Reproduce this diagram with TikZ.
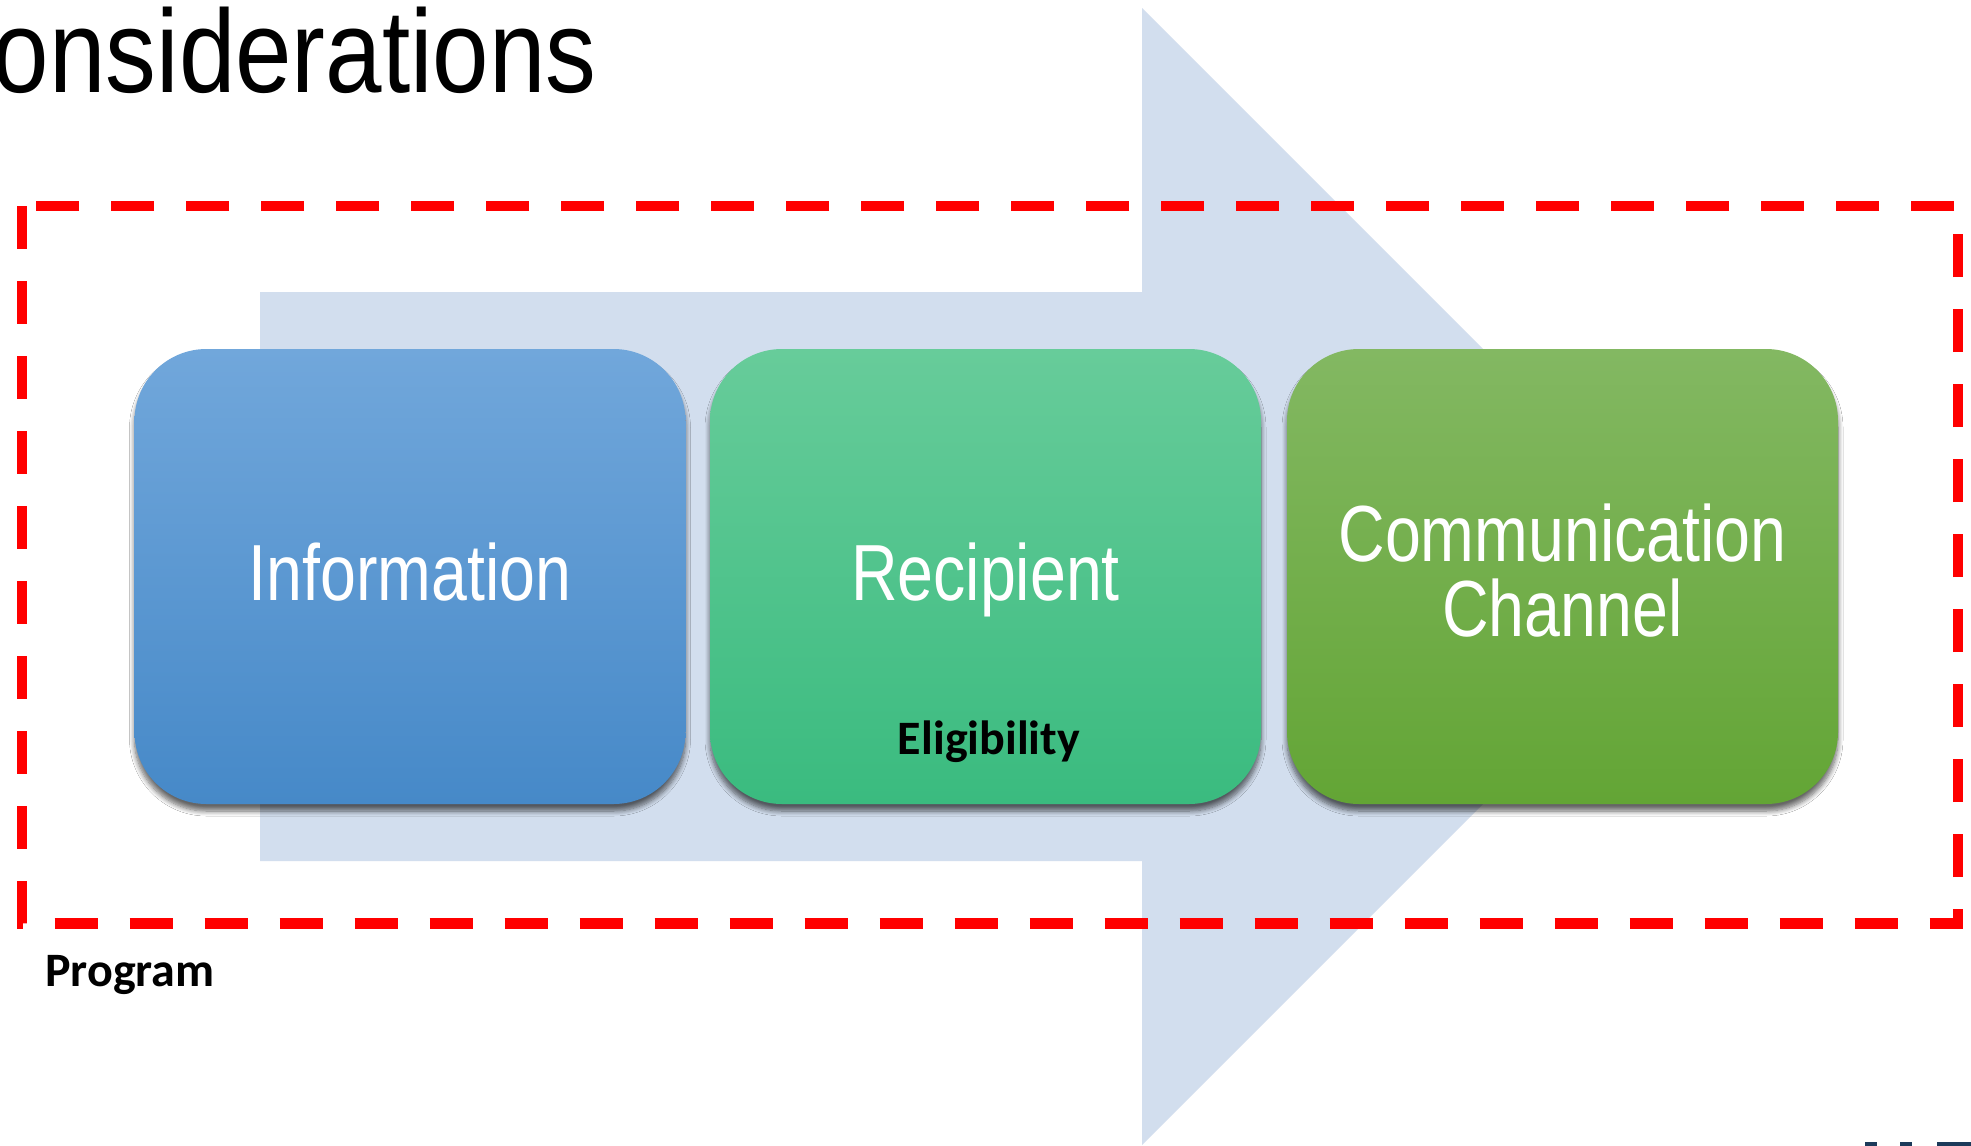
\documentclass[tikz,border=0pt]{standalone}
\usepackage{fontspec}
\setmainfont{Liberation Sans}
\newfontfamily\thinfont[FakeStretch=0.81]{Liberation Sans}
\newfontfamily\titlefont[FakeStretch=0.86]{Liberation Sans}
\newfontfamily\lblfont{Carlito}
\usetikzlibrary{shadows.blur}
\definecolor{arrowc}{RGB}{210,222,238}
\definecolor{infoT}{RGB}{113,167,219}
\definecolor{infoB}{RGB}{70,137,200}
\definecolor{recT}{RGB}{103,204,154}
\definecolor{recB}{RGB}{58,187,127}
\definecolor{comT}{RGB}{131,184,98}
\definecolor{comB}{RGB}{99,165,53}
\definecolor{logoc}{RGB}{28,58,90}
\tikzset{
  box/.style={rounded corners=36pt, minimum width=275.5pt, minimum height=227.5pt,
    inner sep=0pt, blur shadow={shadow xshift=0pt, shadow yshift=-3.5pt, shadow blur radius=2.5pt, shadow blur steps=8, shadow opacity=60}},
  boxtext/.style={text=white, font=\thinfont\fontsize{39.8}{48}\selectfont, anchor=base, inner sep=0pt},
  lbl/.style={text=black, font=\lblfont\bfseries\fontsize{24}{29}\selectfont, inner sep=0pt},
  progline/.style={draw=red, line width=5.25pt, dash pattern=on 21.5pt off 16pt}
}
\begin{document}
\begin{tikzpicture}[x=0.5pt,y=-0.5pt]
\useasboundingbox (0,0) rectangle (1971,1146);
\fill[white] (0,0) rectangle (1971,1146);
% title
\node[font=\titlefont\fontsize{59}{70}\selectfont, anchor=base east, inner sep=0pt] (title) at (597,92) {onsiderations};
% big arrow
\fill[arrowc] (260,292) -- (1142,292) -- (1142,8) -- (1710.5,576.5) -- (1142,1145) -- (1142,861) -- (260,861) -- cycle;
% boxes
\node[box, top color=infoT, bottom color=infoB] (info) at (410,576.5) {};
\node[box, top color=recT, bottom color=recB] (rec) at (985.5,576.5) {};
\node[box, top color=comT, bottom color=comB] (com) at (1562.5,576.5) {};
\node[boxtext] (infot) at (410,600) {Information};
\node[boxtext] (rect) at (985.5,600) {Recipient};
\node[boxtext] (comt1) at (1562.5,561) {Communication};
\node[boxtext] (comt2) at (1562.5,636) {Channel};
\node[lbl, anchor=base] (elig) at (989,754) {Eligibility};
% program dashed frame
\draw[progline] (22,206) rectangle (1958,923.5);
\node[lbl, anchor=base west] (prog) at (45,986) {Program};
% logo fragment
\fill[logoc] (1865,1142) rectangle (1877,1146);
\fill[logoc] (1900,1142) rectangle (1912,1146);
\fill[logoc] (1937,1142) rectangle (1971,1146);
\end{tikzpicture}
\end{document}
